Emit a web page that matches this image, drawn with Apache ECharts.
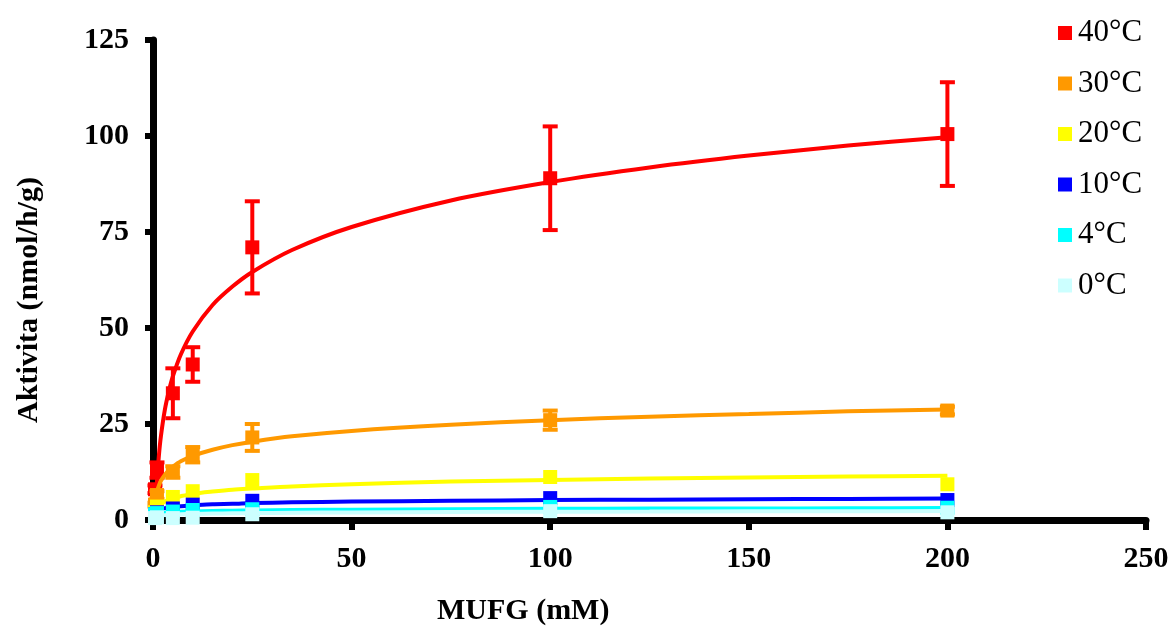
<!DOCTYPE html>
<html>
<head>
<meta charset="utf-8">
<script src="https://cdn.jsdelivr.net/npm/echarts@6/dist/echarts.min.js"></script>
<style>
html,body{margin:0;padding:0;background:#fff;}
#main{width:1176px;height:630px;}
</style>
</head>
<body>
<div id="main"></div>
<script>
// ---- data ----
const seriesNames = ['40°C', '30°C', '20°C', '10°C', '4°C', '0°C'];
const seriesColors = ['#ff0000', '#ff9900', '#ffff00', '#0000ff', '#00ffff', '#ccffff'];

const pointX = [0.5, 1, 5, 10, 25, 100, 200];
const y40 = [8, 13, 33, 40.5, 71, 89, 100.5];
const e40 = [1, 2, 6.5, 4.5, 12, 13.5, 13.5];
const y30 = [4, 6.5, 12.5, 17, 21.5, 26, 28.5];
const e30 = [0.5, 1, 1.5, 2, 3.5, 2.5, 1];
const y20 = [2, 3.5, 6, 7.5, 10.4, 11.2, 9.3];
const y10 = [1.5, 2, 3, 4, 5, 5.7, 5.2];
const y4 = [1.5, 1.8, 2.2, 2.6, 2.8, 3.4, 3.2];
const y0 = [0.5, 0.7, 0.5, 0.6, 1.5, 2.3, 2.0];

// fitted trend curves
const curveX = [0.55, 0.75, 1, 1.5, 2, 3, 4, 5, 7, 10, 15, 20, 25, 35, 50, 75, 100, 125, 150, 175, 200];
const c40 = [0.1, 5.3, 10.2, 17.0, 21.9, 28.8, 33.6, 37.4, 43.1, 49.1, 56.0, 60.8, 64.6, 70.3, 76.3, 83.2, 88.0, 91.8, 94.9, 97.5, 99.7];
const c30 = [5.0, 6.2, 7.4, 9.0, 10.2, 11.8, 13.0, 13.9, 15.3, 16.7, 18.3, 19.5, 20.4, 21.8, 23.2, 24.8, 26.0, 26.9, 27.6, 28.3, 28.8];
const c20 = [2.1, 2.6, 3.1, 3.7, 4.2, 4.8, 5.3, 5.7, 6.2, 6.8, 7.4, 7.9, 8.2, 8.75, 9.3, 10.0, 10.4, 10.8, 11.1, 11.3, 11.5];
const c10 = [2.15, 2.3, 2.5, 2.7, 2.9, 3.1, 3.3, 3.4, 3.6, 3.8, 4.1, 4.2, 4.4, 4.6, 4.8, 5.0, 5.2, 5.3, 5.4, 5.5, 5.6];
const c4 = [1.4, 1.49, 1.57, 1.69, 1.77, 1.89, 1.97, 2.04, 2.13, 2.24, 2.35, 2.44, 2.5, 2.6, 2.7, 2.82, 2.9, 2.97, 3.0, 3.05, 3.1];
const c0 = [0.85, 0.93, 1.0, 1.1, 1.17, 1.27, 1.35, 1.4, 1.49, 1.58, 1.68, 1.75, 1.8, 1.89, 1.98, 2.08, 2.15, 2.2, 2.25, 2.29, 2.32];

const xTicks = {min: 0, max: 250, interval: 50};
const yTicks = {min: 0, max: 125, interval: 25};

const xTitle = 'MUFG (mM)';
const yTitle = 'Aktivita (nmol/h/g)';

// ---- build ----
const pointsY = [y40, y30, y20, y10, y4, y0];
const curvesY = [c40, c30, c20, c10, c4, c0];
const errs = [e40, e30, null, null, null, null];
const serif = '"Liberation Serif", "Times New Roman", serif';

const zip = (xs, ys) => xs.map((x, i) => [x, ys[i]]);

const series = [];
seriesNames.forEach((name, k) => {
  series.push({
    name: name + ' trend',
    type: 'line',
    data: zip(curveX, curvesY[k]),
    smooth: 0.3,
    showSymbol: false,
    symbol: 'none',
    lineStyle: {color: seriesColors[k], width: 4},
    z: 2 + k * 3,
    silent: true,
    animation: false
  });
  if (errs[k]) {
    const e = errs[k];
    series.push({
      name: name + ' err',
      type: 'custom',
      data: pointX.map((x, i) => [x, pointsY[k][i], e[i]]),
      renderItem: function (params, api) {
        const x = api.value(0), y = api.value(1), er = api.value(2);
        const top = api.coord([x, y + er]);
        const bot = api.coord([x, y - er]);
        const cw = 7.5;
        const st = {stroke: seriesColors[k], lineWidth: 4};
        return {
          type: 'group',
          children: [
            {type: 'line', shape: {x1: top[0], y1: top[1], x2: bot[0], y2: bot[1]}, style: st},
            {type: 'line', shape: {x1: top[0] - cw, y1: top[1], x2: top[0] + cw, y2: top[1]}, style: st},
            {type: 'line', shape: {x1: bot[0] - cw, y1: bot[1], x2: bot[0] + cw, y2: bot[1]}, style: st}
          ]
        };
      },
      z: 3 + k * 3,
      silent: true,
      animation: false
    });
  }
  series.push({
    name: name,
    type: 'scatter',
    data: zip(pointX, pointsY[k]),
    symbol: 'rect',
    symbolSize: 14,
    itemStyle: {color: seriesColors[k], opacity: 1},
    z: 4 + k * 3,
    animation: false
  });
});

const chart = echarts.init(document.getElementById('main'), null, {renderer: 'canvas'});
chart.setOption({
  backgroundColor: '#ffffff',
  animation: false,
  grid: {left: 153, right: 30, top: 40, bottom: 110, containLabel: false},
  legend: {
    orient: 'vertical',
    left: 1053,
    top: 12,
    itemWidth: 14,
    itemHeight: 14,
    itemGap: 18.5,
    selectedMode: false,
    data: seriesNames.map(n => ({name: n, icon: 'rect'})),
    textStyle: {fontFamily: serif, fontSize: 31, color: '#000', lineHeight: 32, padding: [0, 0, 0, 1]}
  },
  xAxis: {
    type: 'value',
    min: xTicks.min, max: xTicks.max, interval: xTicks.interval,
    splitLine: {show: false},
    axisLine: {show: true, onZero: false, lineStyle: {color: '#000', width: 7}},
    axisTick: {show: true, length: 10, lineStyle: {color: '#000', width: 6}},
    axisLabel: {fontFamily: serif, fontSize: 30, fontWeight: 'bold', color: '#000', margin: 24}
  },
  yAxis: {
    type: 'value',
    min: yTicks.min, max: yTicks.max, interval: yTicks.interval,
    splitLine: {show: false},
    axisLine: {show: true, onZero: false, lineStyle: {color: '#000', width: 7}},
    axisTick: {show: true, length: 8, lineStyle: {color: '#000', width: 6}},
    axisLabel: {fontFamily: serif, fontSize: 30, fontWeight: 'bold', color: '#000', margin: 24}
  },
  graphic: [
    {type: 'text', left: 437, top: 596, style: {text: xTitle, font: 'bold 30px ' + serif, fill: '#000'}},
    {type: 'text', x: 29, y: 300, rotation: Math.PI / 2,
     style: {text: yTitle, font: 'bold 30px ' + serif, fill: '#000', align: 'center', verticalAlign: 'middle'}}
  ],
  series: series
});
</script>
</body>
</html>
